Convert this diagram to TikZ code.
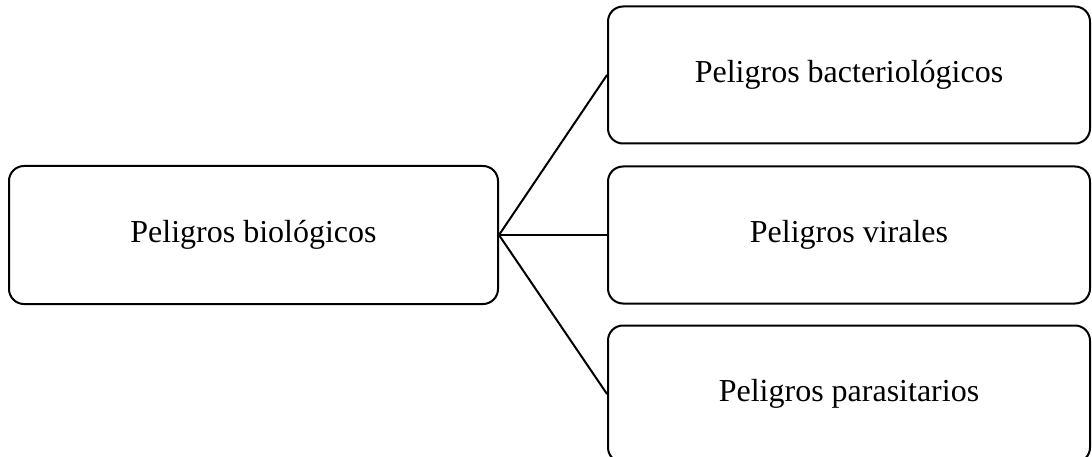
\documentclass[tikz,border=0pt]{standalone}
\usepackage{fontspec}
\setmainfont{Liberation Serif}
\usetikzlibrary{positioning}

\begin{document}
\begin{tikzpicture}[x=1pt, y=-1pt]
    % Styles
    \tikzstyle{hazard} = [rectangle, rounded corners=15pt, draw=black, line width=2pt,
                          inner sep=0pt, text centered, font=\fontsize{32}{38}\selectfont]
    \tikzstyle{mainhazard} = [hazard, minimum width=489pt, minimum height=138pt]
    \tikzstyle{subhazard} = [hazard, minimum width=482pt, minimum height=137pt]
    \tikzstyle{link} = [line width=2pt]

    \useasboundingbox (0,0) rectangle (1092,457);

    % Nodes
    \node (bio) [mainhazard] at (253.5,235) {Peligros biológicos};
    \node (viral) [subhazard] at (849,235) {Peligros virales};
    \node (bact) [subhazard, above=21pt of viral] {Peligros bacteriológicos};
    \node (parasit) [subhazard, below=20pt of viral] {Peligros parasitarios};

    % Links
    \draw [link] (bio.east) -- (bact.west);
    \draw [link] (bio.east) -- (viral.west);
    \draw [link] (bio.east) -- (parasit.west);

\end{tikzpicture}
\end{document}
